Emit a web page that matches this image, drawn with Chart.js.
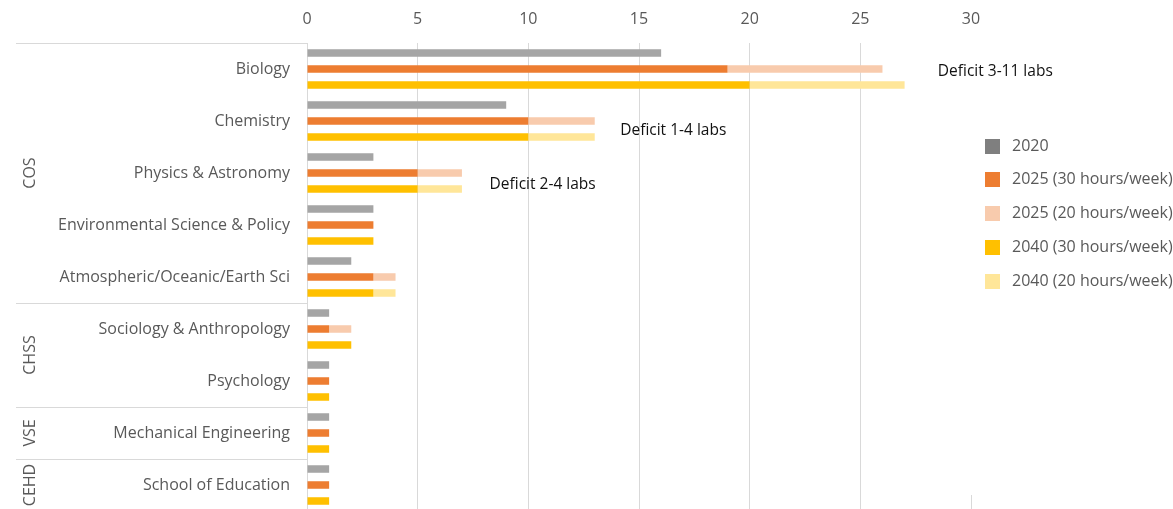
<!DOCTYPE html>
<html>
<head>
<meta charset="utf-8">
<script src="https://cdn.jsdelivr.net/npm/chart.js@4/dist/chart.umd.min.js"></script>
<style>
  html, body { margin: 0; padding: 0; background: #ffffff; overflow: hidden; }
  #wrap { width: 1173px; height: 509px; position: relative; overflow: hidden; }
</style>
</head>
<body>
<div id="wrap"><canvas id="labs" width="1173" height="511"></canvas></div>
<script>
// Teaching labs needed per department
const departments = [
  'Biology',
  'Chemistry',
  'Physics & Astronomy',
  'Environmental Science & Policy',
  'Atmospheric/Oceanic/Earth Sci',
  'Sociology & Anthropology',
  'Psychology',
  'Mechanical Engineering',
  'School of Education'
];
const colleges = ['COS', 'CHSS', 'VSE', 'CEHD'];
const collegeOfDept = ['COS', 'COS', 'COS', 'COS', 'COS', 'CHSS', 'CHSS', 'VSE', 'CEHD'];

const labs2020      = [16,  9, 3, 3, 2, 1, 1, 1, 1];
const labs2025hr30  = [19, 10, 5, 3, 3, 1, 1, 1, 1];
const extra2025hr20 = [ 7,  3, 2, 0, 1, 1, 0, 0, 0];
const labs2040hr30  = [20, 10, 5, 3, 3, 2, 1, 1, 1];
const extra2040hr20 = [ 7,  3, 2, 0, 1, 0, 0, 0, 0];

const seriesNames = ['2020', '2025 (30 hours/week)', '2025 (20 hours/week)', '2040 (30 hours/week)', '2040 (20 hours/week)'];
const xTicks = [0, 5, 10, 15, 20, 25, 30];
const deficitLabels = ['Deficit 3-11 labs', 'Deficit 1-4 labs', 'Deficit 2-4 labs'];

const FONT = '"Open Sans", "Noto Sans", sans-serif';
const TEXT = '#595959';
const RULE = '#d9d9d9';

const barColors    = ['#a5a5a5', '#ed7d31', '#f8cbad', '#ffc000', '#ffe699'];
const legendColors = ['#7f7f7f', '#ed7d31', '#f8cbad', '#ffc000', '#ffe699'];

// where each deficit note sits: [department index, value on x axis, vertical nudge in px]
const notePlacement = [[0, 28.5, 3], [1, 14.15, 10], [2, 8.25, 12]];

// College brackets and separators to the left of the department names
const collegeBrackets = {
  id: 'collegeBrackets',
  afterDraw(chart) {
    const { ctx, chartArea } = chart;
    const y = chart.scales.y;
    const half = (y.getPixelForValue(1) - y.getPixelForValue(0)) / 2;
    ctx.save();
    ctx.strokeStyle = RULE;
    ctx.lineWidth = 1;
    colleges.forEach(name => {
      const first = collegeOfDept.indexOf(name);
      const last = collegeOfDept.lastIndexOf(name);
      const top = y.getPixelForValue(first) - half;
      const bottom = y.getPixelForValue(last) + half;
      ctx.beginPath();
      ctx.moveTo(16, Math.round(top) + 0.5);
      ctx.lineTo(chartArea.left, Math.round(top) + 0.5);
      ctx.stroke();
      ctx.save();
      ctx.translate(30, (top + bottom) / 2);
      ctx.rotate(-Math.PI / 2);
      ctx.fillStyle = TEXT;
      ctx.font = '16px ' + FONT;
      ctx.textAlign = 'center';
      ctx.textBaseline = 'middle';
      ctx.fillText(name, 0, 0);
      ctx.restore();
    });
    ctx.restore();
  }
};

// Legend panel on the right plus the deficit notes
const sideNotes = {
  id: 'sideNotes',
  afterDraw(chart) {
    const { ctx } = chart;
    const x = chart.scales.x, y = chart.scales.y;
    ctx.save();
    ctx.fillStyle = '#ffffff';
    ctx.fillRect(964, 32, 1173 - 964, 495 - 32);

    ctx.font = '16px ' + FONT;
    ctx.textBaseline = 'middle';
    ctx.textAlign = 'left';
    chart.data.datasets.forEach((ds, i) => {
      const cy = 146 + i * 33.8;
      ctx.fillStyle = legendColors[i];
      ctx.fillRect(985, Math.round(cy - 7.5), 15, 15);
      ctx.fillStyle = TEXT;
      ctx.fillText(ds.label, 1012, cy);
    });

    ctx.fillStyle = '#111111';
    ctx.font = '15.5px ' + FONT;
    deficitLabels.forEach((txt, i) => {
      const [row, at, dy] = notePlacement[i];
      ctx.fillText(txt, x.getPixelForValue(at), y.getPixelForValue(row) + dy);
    });
    ctx.restore();
  }
};

const stackOf = ['s2020', 's2025', 's2025', 's2040', 's2040'];
const seriesData = [labs2020, labs2025hr30, extra2025hr20, labs2040hr30, extra2040hr20];

new Chart(document.getElementById('labs'), {
  type: 'bar',
  data: {
    labels: departments,
    datasets: seriesData.map((values, i) => ({
      label: seriesNames[i],
      data: values,
      stack: stackOf[i],
      backgroundColor: barColors[i],
      borderWidth: 0,
      categoryPercentage: 0.923,
      barPercentage: 0.47
    }))
  },
  options: {
    indexAxis: 'y',
    responsive: false,
    animation: false,
    layout: { padding: { left: 0, right: 202, top: 0, bottom: 0 } },
    plugins: {
      legend: { display: false },
      tooltip: { enabled: false }
    },
    scales: {
      x: {
        position: 'top',
        stacked: true,
        min: 0,
        max: 30,
        afterBuildTicks(scale) { scale.ticks = xTicks.map(v => ({ value: v })); },
        afterFit(scale) { scale.height = 43; },
        grid: { color: RULE, lineWidth: 1, drawTicks: false },
        border: { display: false },
        ticks: { color: TEXT, padding: 14, font: { family: FONT, size: 16 } }
      },
      y: {
        stacked: true,
        afterFit(scale) {
          scale.width = 307;
          scale.paddingTop = 0;
          scale.paddingBottom = 0;
        },
        grid: { display: false, drawTicks: false },
        border: { display: true, color: RULE, width: 1 },
        ticks: { color: TEXT, padding: 17, font: { family: FONT, size: 16 } }
      }
    }
  },
  plugins: [collegeBrackets, sideNotes]
});
</script>
</body>
</html>
